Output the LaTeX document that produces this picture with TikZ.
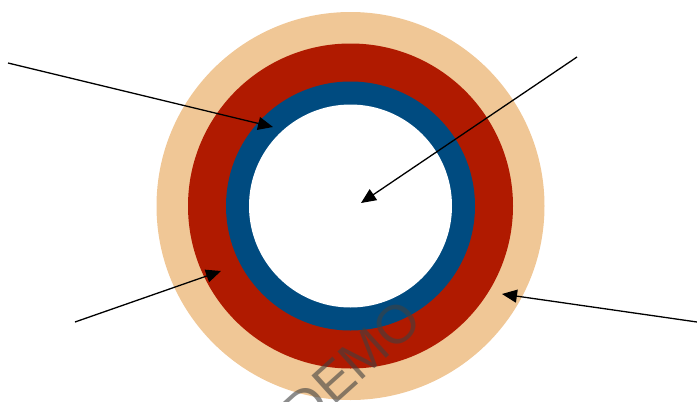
\documentclass[tikz,border=0pt]{standalone}
\usepackage{fontspec}
\setmainfont{Liberation Sans}
\usetikzlibrary{arrows.meta}

\definecolor{ringtan}{HTML}{F0C796}
\definecolor{ringred}{HTML}{B01A00}
\definecolor{ringblue}{HTML}{004B80}

\tikzset{
  ring/.style={circle,inner sep=0pt,draw=none},
  pointer/.style={-{Triangle[length=15pt,width=13pt]},line width=1.3pt}
}

\begin{document}
\begin{tikzpicture}[x=1pt,y=-1pt]
  \useasboundingbox (0,0) rectangle (697,402);
  \node[ring,fill=ringtan,minimum size=388pt] (R1) at (350.5,206) {};
  \node[ring,fill=ringred,minimum size=325pt] (R2) at (350.5,206) {};
  \node[ring,fill=ringblue,minimum size=249pt] (R3) at (350.5,206) {};
  \node[ring,fill=white,minimum size=203pt] (R4) at (350.5,206) {};
  % ends of the pointers
  \coordinate (A1) at (8,63);
  \coordinate (T1) at (273,127);
  \coordinate (A2) at (577,57);
  \coordinate (T2) at (361,203);
  \coordinate (A3) at (75,322);
  \coordinate (T3) at (221,271);
  \coordinate (A4) at (697,322);
  \coordinate (T4) at (502,294);
  \path[pointer] (A1) edge (T1) (A2) edge (T2);
  \path[pointer] (A3) edge (T3) (A4) edge (T4);
  % watermark
  \node[rotate=42,text=black!75,opacity=0.6,font=\fontsize{54}{54}\selectfont] (W) at (352,365) {DEMO};
\end{tikzpicture}
\end{document}
